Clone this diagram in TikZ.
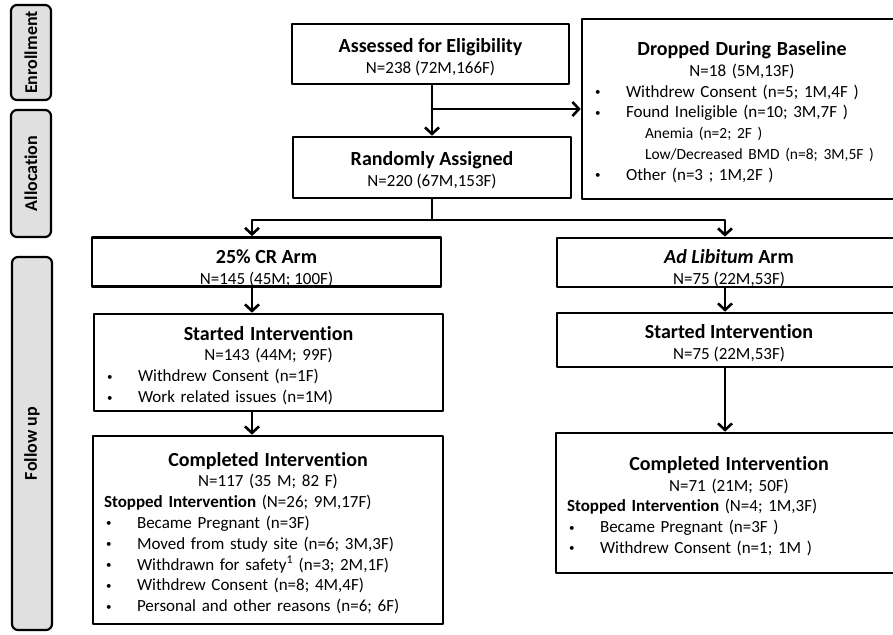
\documentclass[tikz,border=0pt]{standalone}
\usepackage{fontspec}
\setmainfont{Carlito}[Ligatures=NoCommon]
\usetikzlibrary{arrows.meta}
\newcommand{\ttl}[1]{{\fontsize{20}{24}\selectfont\bfseries\rule{0pt}{20pt}#1}}
\newcommand{\ctr}[1]{\makebox[\linewidth][c]{#1}}
\newcommand{\bul}[1]{\makebox[33pt][l]{\hspace*{2pt}\raisebox{1.5pt}{\fontsize{11}{11}\selectfont\textbullet}}#1}
\newcommand{\sub}[1]{\hspace*{52pt}{\fontsize{15.5}{19}\selectfont #1}}

\begin{document}
\begin{tikzpicture}[x=1pt, y=-1pt, font=\fontsize{17}{20.8}\selectfont, line join=round, line cap=round,
	>={Straight Barb[length=6.5pt,width=14pt]},
	box/.style={draw, line width=2.6pt, inner xsep=11pt, inner ysep=0pt},
	lab/.style={draw, line width=2.2pt, fill=black!12, rounded corners=6pt, rotate=90, inner sep=0pt,
		minimum height=40pt, font=\fontsize{18}{20}\selectfont\bfseries}]
	\clip (0,0) rectangle (893,634);
	\coordinate (lcol) at (252,0); % arrow columns
	\coordinate (rcol) at (725,0);
	% phases
	\node[lab, minimum width=95pt] (enr) at (31,52.5) {Enrollment};
	\node[lab, minimum width=127pt] (alc) at (31,173.5) {Allocation};
	\node[lab, minimum width=373pt] (fol) at (32,443.5) {Follow up};
	% enrollment
	\node[box, minimum width=277pt, minimum height=60pt, align=center] (assess) at (430.5,54)
		{\ttl{Assessed for Eligibility}\\ N=238 (72M,166F)};
	\node[box, minimum width=278pt, minimum height=61pt, align=center] (rand) at (432,167.5)
		{\ttl{Randomly Assigned}\\ N=220 (67M,153F)};
	\node[box, minimum width=320pt, minimum height=180pt, text width=298pt, align=left] (drop) at (742,109)
		{\ctr{\ttl{Dropped During Baseline}}\\
		 \ctr{N=18 (5M,13F)}\\
		 \bul{Withdrew Consent (n=5; 1M,4F )}\\
		 \bul{Found Ineligible (n=10; 3M,7F )}\\
		 \sub{Anemia (n=2; 2F )}\\
		 \sub{Low/Decreased BMD (n=8; 3M,5F )}\\
		 \bul{Other (n=3 ; 1M,2F )}};
	% allocation
	\node[box, minimum width=349pt, minimum height=42pt, align=center] (cr) at (266.5,262)
		{\rule{0pt}{26pt}\ttl{25\% CR Arm}\\ N=145 (45M; 100F)};
	\node[box, minimum width=344pt, minimum height=43pt, align=center] (al) at (729,262.5)
		{\rule{0pt}{26pt}\ttl{\textit{Ad Libitum} Arm}\\ N=75 (22M,53F)};
	% follow up
	\node[box, minimum width=349pt, minimum height=97pt, text width=327pt, align=left] (crstart) at (268.5,362.5)
		{\ctr{\ttl{Started Intervention}}\\
		 \ctr{N=143 (44M; 99F)}\\
		 \bul{Withdrew Consent (n=1F)}\\
		 \bul{Work related issues (n=1M)}};
	\node[box, minimum width=344pt, minimum height=54pt, align=center] (alstart) at (729,340)
		{\ttl{Started Intervention}\\ N=75 (22M,53F)};
	\node[box, minimum width=350pt, minimum height=188pt, text width=328pt, align=left] (crdone) at (268,530)
		{\ctr{\ttl{Completed Intervention}}\\
		 \ctr{N=117 (35 M; 82 F)}\\
		 \textbf{Stopped Intervention} (N=26; 9M,17F)\\
		 \bul{Became Pregnant (n=3F)}\\
		 \bul{Moved from study site (n=6; 3M,3F)}\\
		 \bul{Withdrawn for safety\textsuperscript{1} (n=3; 2M,1F)}\\
		 \bul{Withdrew Consent (n=8; 4M,4F)}\\
		 \bul{Personal and other reasons (n=6; 6F)}};
	\node[box, minimum width=346pt, minimum height=140pt, text width=324pt, align=left] (aldone) at (729,503)
		{\ctr{\ttl{Completed Intervention}}\\
		 \ctr{N=71 (21M; 50F)}\\
		 \textbf{Stopped Intervention} (N=4; 1M,3F)\\
		 \bul{Became Pregnant (n=3F )}\\
		 \bul{Withdrew Consent (n=1; 1M )}};
	% connectors
	\coordinate (brk) at (432,109);
	\coordinate (spl) at (432,220);
	\begin{scope}[line width=2.6pt]
		\draw[->] (rand.north |- assess.south) -- (rand.north);
		\draw[->] (brk) -- (brk -| drop.west);
		\draw (rand.south) -- (spl);
		\draw[->] (spl) -| (cr.north -| lcol);
		\draw[->] (spl) -| (al.north -| rcol);
		\draw[->] (cr.south -| lcol) -- (crstart.north -| lcol);
		\draw[->] (crstart.south -| lcol) -- (crdone.north -| lcol);
		\draw[->] (al.south -| rcol) -- (alstart.north -| rcol);
		\draw[->] (alstart.south -| rcol) -- (aldone.north -| rcol);
	\end{scope}
\end{tikzpicture}
\end{document}
